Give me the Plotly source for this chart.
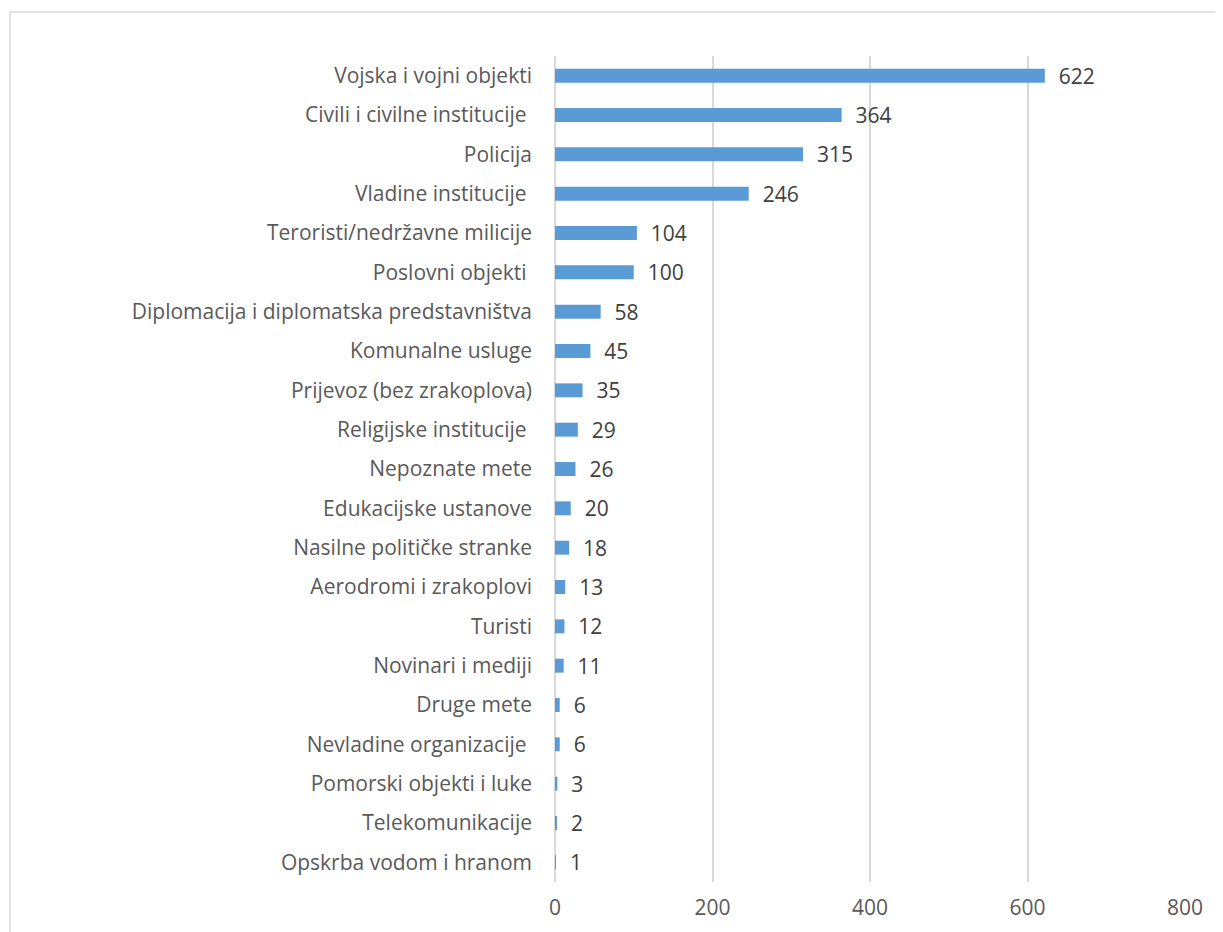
import plotly.graph_objects as go

categories = [
    "Vojska i vojni objekti",
    "Civili i civilne institucije ",
    "Policija",
    "Vladine institucije ",
    "Teroristi/nedržavne milicije",
    "Poslovni objekti ",
    "Diplomacija i diplomatska predstavništva",
    "Komunalne usluge",
    "Prijevoz (bez zrakoplova)",
    "Religijske institucije ",
    "Nepoznate mete",
    "Edukacijske ustanove",
    "Nasilne političke stranke",
    "Aerodromi i zrakoplovi",
    "Turisti",
    "Novinari i mediji",
    "Druge mete",
    "Nevladine organizacije ",
    "Pomorski objekti i luke",
    "Telekomunikacije",
    "Opskrba vodom i hranom",
]
values = [622, 364, 315, 246, 104, 100, 58, 45, 35, 29, 26, 20, 18, 13, 12, 11, 6, 6, 3, 2, 1]
x_ticks = [0, 200, 400, 600, 800]

FONT = "Open Sans"
FS = 21
OFF = 8  # page body margin
W, H = 1223 - OFF, 932 - OFF
L, R, T, B = 555 - OFF, 38, 56 - OFF, 50
pw, ph = W - L - R, H - T - B

fig = go.Figure()
fig.add_trace(go.Bar(
    y=categories,
    x=values,
    orientation="h",
    marker=dict(color="#5B9BD5", line=dict(width=0)),
    text=["  " + str(v) for v in values],
    textposition="outside",
    constraintext="none",
    textfont=dict(family=FONT, size=FS, color="#404040"),
    cliponaxis=False,
    hoverinfo="skip",
))

def px_to_paper_x(px):
    return (px - OFF - L) / pw

def px_to_paper_y(py):
    return 1 - (py - OFF - T) / ph

fig.add_shape(
    type="rect", xref="paper", yref="paper",
    x0=px_to_paper_x(10), x1=px_to_paper_x(1240),
    y0=px_to_paper_y(950), y1=px_to_paper_y(12),
    line=dict(color="#D9D9D9", width=1.5),
    fillcolor="rgba(0,0,0,0)", layer="below",
)

fig.update_layout(
    width=W, height=H,
    margin=dict(l=L, r=R, t=T, b=B, autoexpand=False),
    paper_bgcolor="white", plot_bgcolor="white",
    showlegend=False,
    bargap=0.645,
    font=dict(family=FONT, size=FS, color="#595959"),
    xaxis=dict(
        range=[0, 800], tickvals=x_ticks,
        showgrid=True, gridcolor="#D9D9D9", gridwidth=1.5,
        zeroline=True, zerolinecolor="#D9D9D9", zerolinewidth=1.5,
        showline=False, ticks="",
        ticklabelstandoff=11,
        tickfont=dict(family=FONT, size=FS, color="#595959"),
        fixedrange=True,
    ),
    yaxis=dict(
        autorange="reversed",
        showgrid=False, showline=False, ticks="",
        ticklabelstandoff=22,
        tickfont=dict(family=FONT, size=FS, color="#595959"),
        fixedrange=True,
    ),
)

fig.write_html("out.html")
